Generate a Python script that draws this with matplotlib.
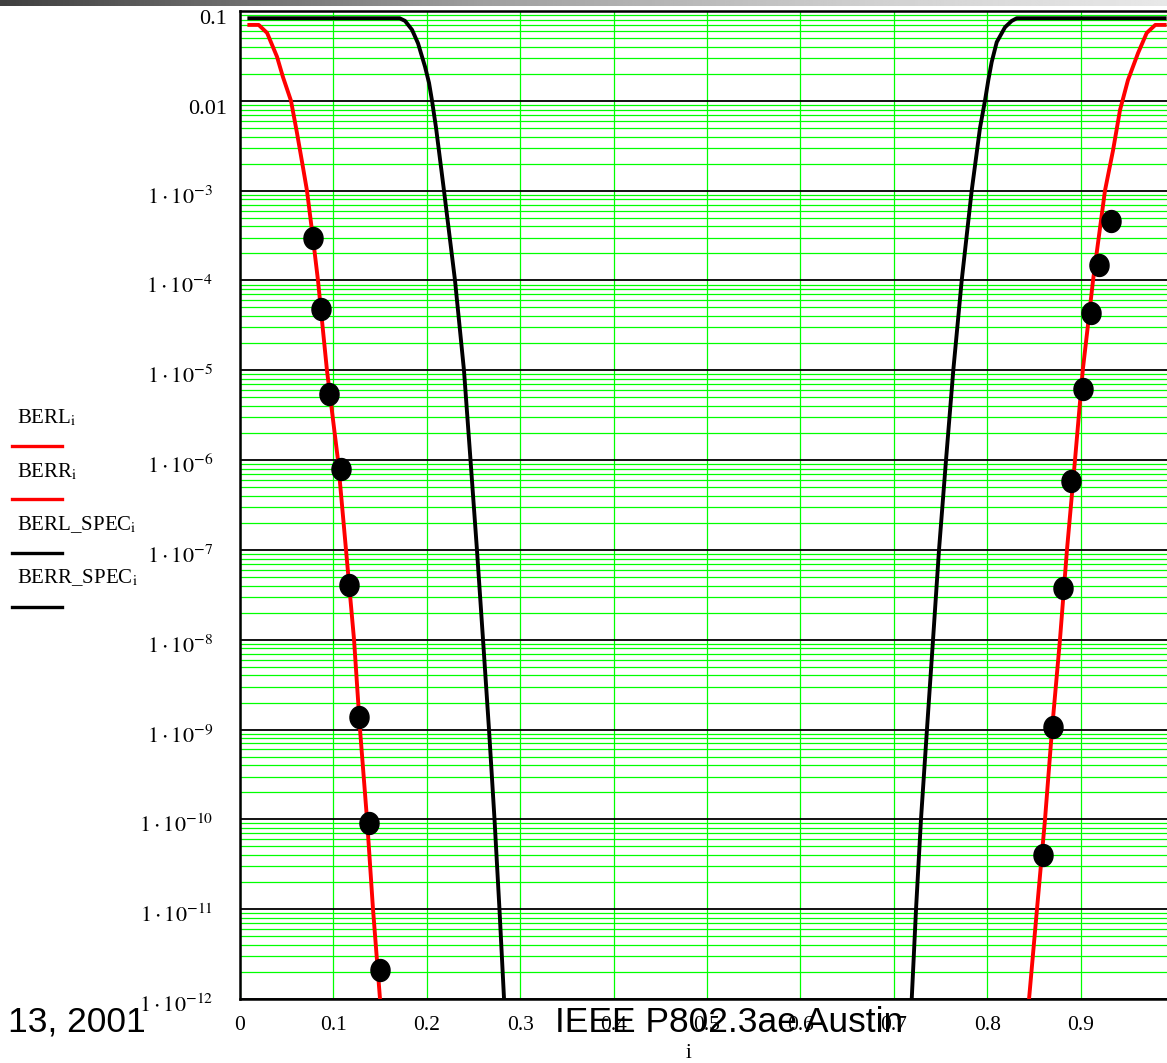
import numpy as np
import matplotlib
matplotlib.use("Agg")
import matplotlib.pyplot as plt
from matplotlib.path import Path
from matplotlib import transforms

plt.rcParams['font.family'] = ['Liberation Serif', 'DejaVu Serif']
plt.rcParams['mathtext.fontset'] = 'stix'

# measured curves (x = i, y = bit error ratio)
berl_x = [0.01, 0.02, 0.029, 0.0396, 0.046, 0.0546, 0.061, 0.0675, 0.0717, 0.0782,
          0.0835, 0.0931, 0.1049, 0.1135, 0.1221, 0.1285, 0.136, 0.1424, 0.1499]
berl_y = [0.070, 0.070, 0.057, 0.031, 0.0184, 0.01, 0.0044, 0.0018, 1e-3, 2.9e-4,
          1e-4, 1e-5, 1e-6, 1e-7, 1e-8, 1e-9, 1e-10, 1e-11, 1e-12]

berr_x = [0.8448, 0.8533, 0.8619, 0.8694, 0.8779, 0.8854, 0.894, 0.9023, 0.9069, 0.9133,
          0.9261, 0.9347, 0.9422, 0.9507, 0.9615, 0.9708, 0.98, 0.99]
berr_y = [1e-12, 1e-11, 1e-10, 1e-9, 1e-8, 1e-7, 1e-6, 1e-5, 2.6e-5, 1e-4,
          1e-3, 2.8e-3, 7.9e-3, 0.017, 0.034, 0.057, 0.070, 0.070]

spec_l_x = [0.01, 0.171, 0.1767, 0.1842, 0.1906, 0.1981, 0.2024, 0.2056, 0.2099, 0.2184,
            0.2302, 0.2398, 0.2468, 0.2537, 0.2602, 0.2666, 0.2725, 0.2778, 0.2827]
spec_l_y = [0.083, 0.083, 0.0776, 0.0617, 0.0437, 0.024, 0.0158, 0.01, 0.005, 1e-3,
            1e-4, 1e-5, 1e-6, 1e-7, 1e-8, 1e-9, 1e-10, 1e-11, 1e-12]

spec_r_x = [0.7192, 0.7238, 0.7291, 0.7355, 0.742, 0.7484, 0.7559, 0.7637, 0.7727, 0.7834,
            0.7923, 0.7976, 0.8012, 0.8048, 0.8102, 0.8191, 0.8262, 0.8316, 0.99]
spec_r_y = [1e-12, 1e-11, 1e-10, 1e-9, 1e-8, 1e-7, 1e-6, 1e-5, 1e-4, 1e-3,
            0.005, 0.01, 0.017, 0.027, 0.045, 0.066, 0.0775, 0.083, 0.083]

# measured points
dots_l_x = [0.0782, 0.0867, 0.0953, 0.1081, 0.1167, 0.1274, 0.1381, 0.1499]
dots_l_y = [2.94e-4, 4.77e-5, 5.4e-6, 7.9e-7, 4.06e-8, 1.37e-9, 9.1e-11, 2.1e-12]
dots_r_x = [0.9325, 0.9197, 0.9111, 0.9026, 0.8897, 0.8812, 0.8704, 0.8597]
dots_r_y = [4.58e-4, 1.48e-4, 4.37e-5, 6.2e-6, 5.8e-7, 3.76e-8, 1.06e-9, 4.0e-11]

x_ticks = [0, 0.1, 0.2, 0.3, 0.4, 0.5, 0.6, 0.7, 0.8, 0.9]
x_ticklabels = ["0", "0.1", "0.2", "0.3", "0.4", "0.5", "0.6", "0.7", "0.8", "0.9"]
y_ticks = [10.0 ** -k for k in range(1, 13)]
y_ticklabels = ["0.1", "0.01"] + [r"$1\cdot10^{-%d}$" % k for k in range(3, 13)]

legend_names = [r"BERL$_{\mathrm{i}}$", r"BERR$_{\mathrm{i}}$",
                r"BERL_SPEC$_{\mathrm{i}}$", r"BERR_SPEC$_{\mathrm{i}}$"]
legend_colors = ["#ff0000", "#ff0000", "black", "black"]

W, H = 1167, 1063
fig = plt.figure(figsize=(W / 100, H / 100), dpi=100)

# slide header bar (gray gradient)
bar = fig.add_axes([0, 1 - 6 / H, 1, 6 / H])
gx = np.linspace(0, W, 400)
shade = np.interp(gx, [0, 480, 880, W], [0.25, 0.62, 0.82, 0.91])
bar.imshow(np.tile(shade, (2, 1)), aspect='auto', cmap='gray', vmin=0, vmax=1,
           extent=[0, 1, 0, 1])
bar.axis('off')

ax = fig.add_axes([240 / W, 64 / H, 934 / W, 988 / H])
ax.set_yscale('log')
ax.set_xlim(0, 1)
ax.set_ylim(1e-12, 0.1)

ax.set_xticks(x_ticks)
ax.set_xticklabels(x_ticklabels)
ax.set_yticks(y_ticks)
ax.set_yticklabels([])
ax.yaxis.set_minor_locator(matplotlib.ticker.LogLocator(base=10, subs=np.arange(2, 10), numticks=100))
ax.yaxis.set_minor_formatter(matplotlib.ticker.NullFormatter())
ax.tick_params(axis='both', which='both', length=0)
ax.tick_params(axis='x', pad=12, labelsize=15.5)

# y labels: plain ones sit closer to the axis than the power-of-ten ones,
# all of them hang a little below their grid line
ytrans = transforms.blended_transform_factory(ax.transAxes, ax.transData)
for val, lab in zip(y_ticks, y_ticklabels):
    shift = -13 if lab.startswith("0") else -27
    tr = transforms.offset_copy(ytrans, fig=fig, x=shift, y=-13, units='dots')
    ax.text(0, val, lab, transform=tr, ha='right', va='baseline', fontsize=16)

ax.grid(True, which='minor', axis='y', color='#00ff00', linewidth=0.9, zorder=0)
ax.grid(True, which='major', axis='x', color='#00ff00', linewidth=0.9, zorder=0)
ax.grid(True, which='major', axis='y', color='black', linewidth=1.3, zorder=1)
ax.set_axisbelow(True)
for s in ax.spines.values():
    s.set_linewidth(1.8)

ax.plot(berl_x, berl_y, color='#ff0000', linewidth=2.8, zorder=3)
ax.plot(berr_x, berr_y, color='#ff0000', linewidth=2.8, zorder=3)
ax.plot(spec_l_x, spec_l_y, color='black', linewidth=2.8, zorder=3)
ax.plot(spec_r_x, spec_r_y, color='black', linewidth=2.8, zorder=3)

t = np.linspace(0, 2 * np.pi, 40)
ellipse = Path(np.column_stack([0.87 * np.cos(t), np.sin(t)]))
ax.plot(dots_l_x, dots_l_y, linestyle='none', marker=ellipse, markersize=15.8,
        color='black', zorder=4, clip_on=False)
ax.plot(dots_r_x, dots_r_y, linestyle='none', marker=ellipse, markersize=15.8,
        color='black', zorder=4, clip_on=False)

# legend at the left, Mathcad style
text_y = [418, 472, 525, 578]
line_y = [446, 499, 553, 607]
for name, col, ty, ly in zip(legend_names, legend_colors, text_y, line_y):
    fig.text(17 / W, 1 - ty / H, name, fontsize=15, va='center', ha='left')
    fig.add_artist(plt.Line2D([12 / W, 62 / W], [1 - ly / H, 1 - ly / H],
                              color=col, linewidth=2.4, transform=fig.transFigure))

fig.text(688 / W, 1 - 1053 / H, "i", fontsize=15, ha='center', va='center')

# slide footer
fig.text(8 / W, 1 - 1032 / H, "13, 2001", fontsize=25.5, family='Liberation Sans',
         ha='left', va='baseline')
fig.text(555 / W, 1 - 1032 / H, "IEEE P802.3ae Austin", fontsize=25.5,
         family='Liberation Sans', ha='left', va='baseline')

fig.savefig("out.png", dpi=100)
